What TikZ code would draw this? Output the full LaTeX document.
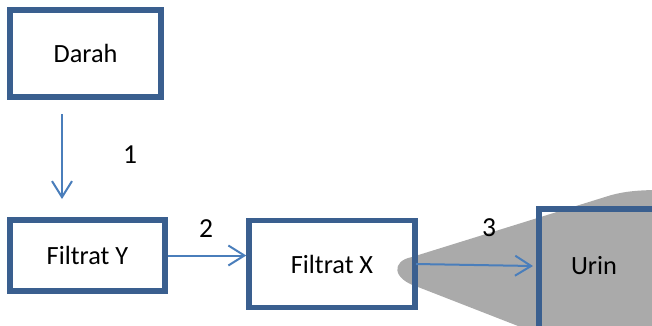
\documentclass[tikz,border=0pt]{standalone}
\usepackage{fontspec}
\setmainfont{Carlito}
\usetikzlibrary{arrows.meta,calc}
\definecolor{boxblue}{HTML}{3A5F8F}
\definecolor{arrblue}{HTML}{4A7EBB}
\definecolor{conegray}{HTML}{AAAAAA}
\begin{document}
\begin{tikzpicture}[x=1pt,y=-1pt,
  box/.style={draw=boxblue,line width=5.5pt,rectangle,inner sep=0pt,
    font=\fontsize{26.3}{31}\selectfont},
  txt/.style={inner sep=0pt,font=\fontsize{26.3}{31}\selectfont},
  num/.style={inner sep=0pt,font=\fontsize{27.5}{32}\selectfont},
  flow/.style={draw=arrblue,line width=2pt,
    -{Straight Barb[length=16pt,width=20pt,line width=2pt]}}]
\useasboundingbox (0,0) rectangle (652,325);
\clip (0,0) rectangle (652,325);
% gray cone
\fill[conegray] (418,287) .. controls (392,279) and (391,261) .. (412,257)
  -- (605,197) .. controls (620,192) and (635,190) .. (660,190)
  -- (660,340) -- (554,340) -- cycle;
% boxes
\node[box,minimum width=151,minimum height=87] (darah) at (85.5,53.5) {Darah};
\node[box,minimum width=155,minimum height=71] (fy) at (87.5,255.5) {Filtrat Y};
\node[box,minimum width=166,minimum height=87] (fx) at (332,264) {Filtrat X};
\node[box,anchor=north west,minimum width=160,minimum height=160] (urin) at (536,206) {};
\node[txt] (urinlabel) at (594,266) {Urin};
% arrows
\coordinate (a1s) at (62,114);
\coordinate (a1e) at (62,199);
\draw[flow] (a1s) -- (a1e);
\draw[flow] (fy.east) -- (fy.east -| fx.west);
\coordinate (a3s) at (416,264);
\coordinate (a3e) at (533,266);
\draw[flow] (a3s) -- (a3e);
% labels
\node[num] (l1) at (130,155) {1};
\node[num] (l2) at (206,229) {2};
\node[num] (l3) at (489,228) {3};
\end{tikzpicture}
\end{document}
